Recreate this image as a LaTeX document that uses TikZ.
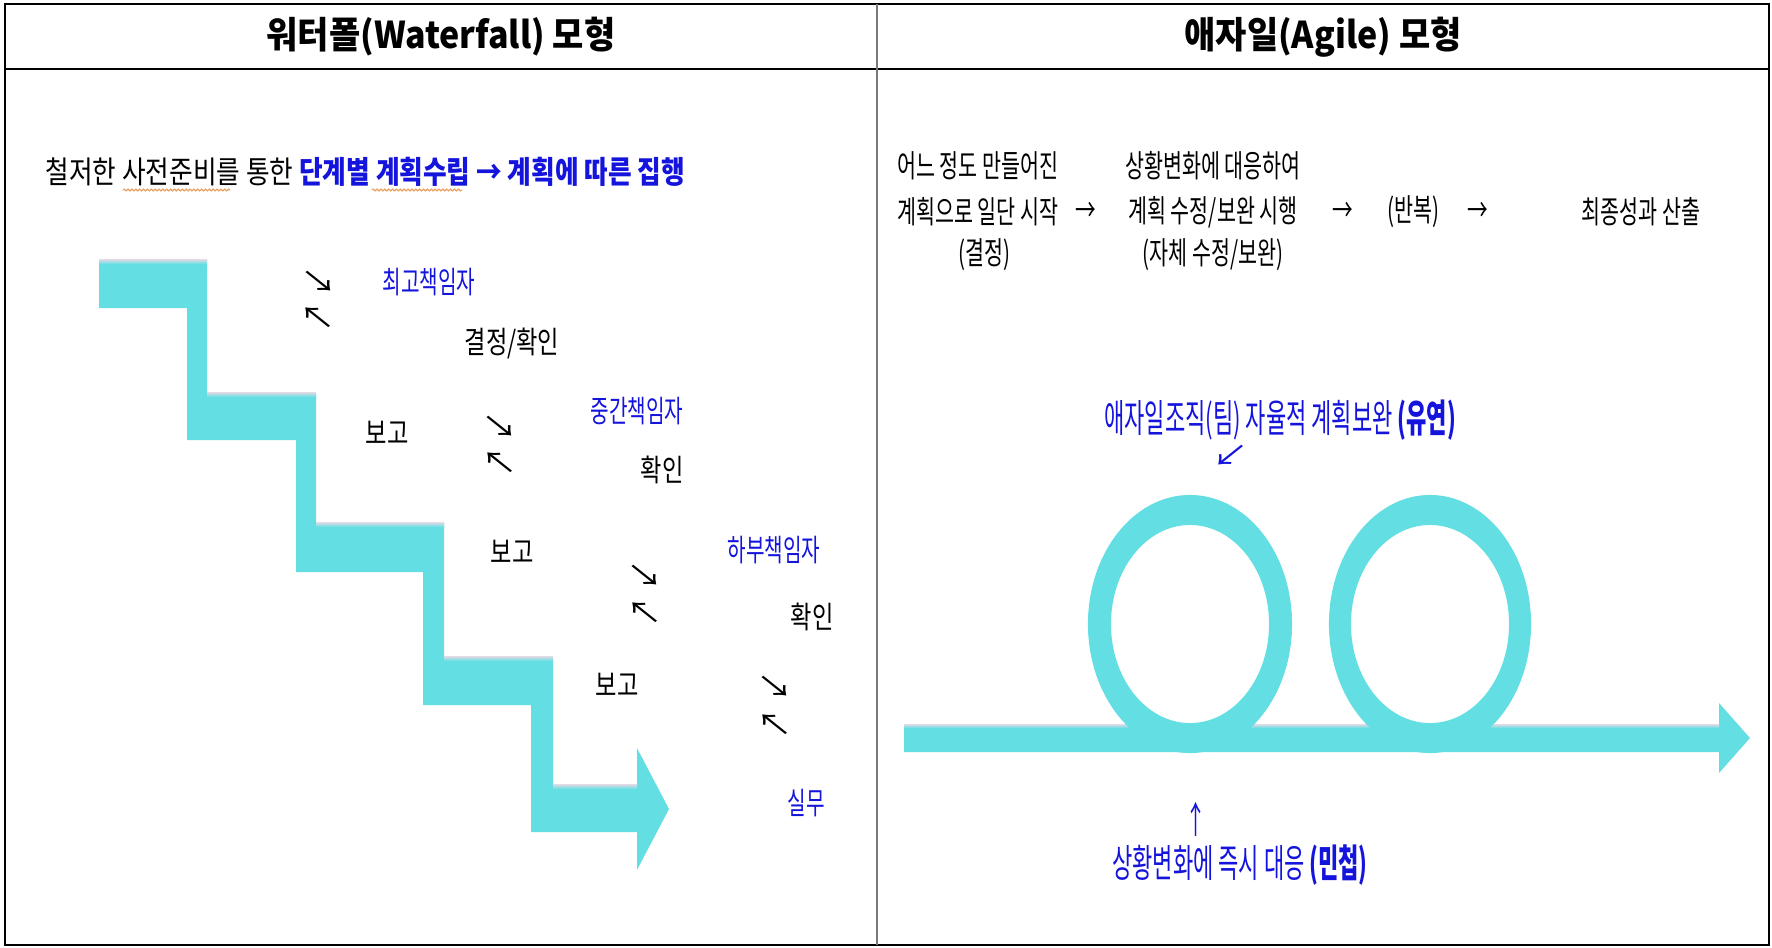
\documentclass[tikz,border=0pt]{standalone}
\usepackage{fontspec}
\setmainfont{Noto Sans CJK KR}
\newfontfamily\ttlfont{Noto Sans CJK KR}[FakeStretch=0.92]
\newfontfamily\sayfont{Noto Sans CJK KR}[FakeStretch=0.83]
\newfontfamily\actfont{Noto Sans CJK KR}[FakeStretch=0.76]
\newfontfamily\nrfont{Noto Sans CJK KR}[FakeStretch=0.66]
\newfontfamily\cpfont{Noto Sans CJK KR}[FakeStretch=0.57]
\newfontfamily\arrfont{Noto Sans CJK KR}[FakeStretch=1.25]
\usepackage{xcolor}
\usepackage{tikz}
\usetikzlibrary{decorations.pathmorphing}
\definecolor{ink}{HTML}{000000}
\definecolor{rule}{HTML}{7A7A7A}
\definecolor{flow}{HTML}{63DFE3}
\definecolor{fade}{HTML}{E4DAE6}
\definecolor{note}{HTML}{1414DC}
\definecolor{squig}{HTML}{E8A060}
\tikzset{
  frame/.style={draw=ink, line width=0.8pt},
  sep/.style={draw=rule, line width=0.6pt},
  band/.style={fill=flow, draw=none},
  rim/.style={top color=fade, bottom color=flow, draw=none},
  ttl/.style={font=\ttlfont\bfseries\fontsize{10.5}{12}\selectfont, inner sep=0pt},
  say/.style={font=\sayfont\fontsize{8.8}{10}\selectfont, inner sep=0pt, anchor=west},
  act/.style={font=\actfont\fontsize{8.7}{10}\selectfont, inner sep=0pt, text=ink},
  who/.style={font=\nrfont\fontsize{8.7}{10}\selectfont, inner sep=0pt, text=note},
  row/.style={font=\nrfont\fontsize{8.9}{10}\selectfont, inner sep=0pt, text=ink},
  caption/.style={font=\cpfont\fontsize{11}{12}\selectfont, inner sep=0pt, text=note},
  tick/.style={font=\arrfont\fontsize{8.3}{9}\selectfont, inner sep=0pt, text=ink},
  wave/.style={draw=squig, line width=0.35pt, decorate,
    decoration={snake, amplitude=0.25pt, segment length=1.1pt}}
}
\begin{document}
\begin{tikzpicture}[x=0.01cm, y=-0.01cm]
  \useasboundingbox (0,0) rectangle (1772,947);
  % table
  \draw[frame] (5,4) rectangle (1769,945);
  \draw[frame] (5,69) -- (1769,69);
  \draw[sep] (877,4) -- (877,945);
  \node[ttl] (ttlW) at (441,37) {워터폴(Waterfall) 모형};
  \node[ttl] (ttlA) at (1323,37) {애자일(Agile) 모형};

  % waterfall
  \node[say] (plan) at (45,172) {철저한 사전준비를 통한 \textcolor{note}{\bfseries 단계별 계획수립 → 계획에 따른 집행}};
  \draw[wave] (123,190) -- (230,190);
  \draw[wave] (372,190) -- (462,190);

  \fill[band] (99,260) -| (207,393) -| (316,523) -| (444,657) -| (553,785)
    -- (637,785) -- (637,748) -- (669,809) -- (637,870) -- (637,832)
    -- (531,832) |- (423,705) |- (296,572) |- (187,440) |- (99,308) -- cycle;
  \shade[rim] (99,259) rectangle (207,264);
  \shade[rim] (207,392) rectangle (316,397);
  \shade[rim] (316,522) rectangle (444,527);
  \shade[rim] (444,656) rectangle (553,661);
  \shade[rim] (553,784) rectangle (637,789);

  \node[who] (top) at (429,282) {최고책임자};
  \node[act] (ok1) at (512,343) {결정/확인};
  \node[tick] (dn1) at (319,282) {↘};
  \node[tick] (up1) at (318,318) {↖};

  \node[act] (rp1) at (387,433) {보고};
  \node[who] (mid) at (637,411) {중간책임자};
  \node[act] (ok2) at (662,470) {확인};
  \node[tick] (dn2) at (500,427) {↘};
  \node[tick] (up2) at (500,463) {↖};

  \node[act] (rp2) at (512,552) {보고};
  \node[who] (low) at (774,550) {하부책임자};
  \node[act] (ok3) at (812,617) {확인};
  \node[tick] (dn3) at (645,576) {↘};
  \node[tick] (up3) at (645,613) {↖};

  \node[act] (rp3) at (617,685) {보고};
  \node[tick] (dn4) at (775,687) {↘};
  \node[tick] (up4) at (775,725) {↖};
  \node[who] (work) at (806,803) {실무};

  % agile
  \node[row] (r1a) at (978,166) {어느 정도 만들어진};
  \node[row] (r2a) at (978,212) {계획으로 일단 시작};
  \node[row] (r3a) at (984,255) {(결정)};
  \node[row] (go1) at (1086,212) {→};
  \node[row] (r1b) at (1213,166) {상황변화에 대응하여};
  \node[row] (r2b) at (1213,212) {계획 수정/보완 시행};
  \node[row] (r3b) at (1213,255) {(자체 수정/보완)};
  \node[row] (go2) at (1343,212) {→};
  \node[row] (rep) at (1413,212) {(반복)};
  \node[row] (go3) at (1478,212) {→};
  \node[row] (out) at (1641,212) {최종성과 산출};

  \node[caption] (flex) at (1280,420) {애자일조직(팀) 자율적 계획보완 {\bfseries (유연)}};
  \node[tick, text=note] (pt1) at (1231,456) {↙};

  \fill[band] (904,725) -- (1719,725) -- (1719,703) -- (1750,738)
    -- (1719,773) -- (1719,752) -- (904,752) -- cycle;
  \shade[rim] (904,724) rectangle (1719,728);
  \fill[band, even odd rule] (1190,624) ellipse [x radius=1.02cm, y radius=1.29cm]
    (1190,624) ellipse [x radius=0.79cm, y radius=0.99cm];
  \fill[band, even odd rule] (1430,624) ellipse [x radius=1.01cm, y radius=1.29cm]
    (1430,624) ellipse [x radius=0.79cm, y radius=0.99cm];

  \node[caption, font=\cpfont\fontsize{10.5}{11}\selectfont] (pt2) at (1196,819) {↑};
  \node[caption] (fast) at (1240,865) {상황변화에 즉시 대응 {\bfseries (민첩)}};
\end{tikzpicture}
\end{document}
